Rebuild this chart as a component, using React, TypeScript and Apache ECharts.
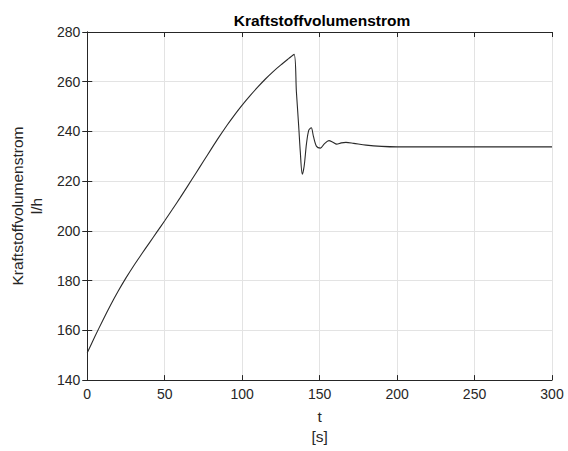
import React, { useEffect, useRef } from "react";
import * as echarts from "echarts";

const timeSeconds = [0, 5, 10, 15, 20, 25, 30, 35, 40, 45, 50, 55, 60, 65, 70, 75, 80, 85, 90, 95, 100, 105, 110, 115, 120, 125, 130, 133.5, 135, 136.5, 137.5, 138.8, 140, 141.5, 143, 144.6, 146, 148, 150.5, 153, 156, 158.5, 161, 164, 167, 172, 180, 190, 200, 250, 300];
const fuelFlow = [151, 157.6, 164.0, 170.1, 175.8, 181.1, 186.0, 190.6, 195.1, 199.6, 204.1, 208.7, 213.4, 218.2, 223.1, 228.0, 232.9, 237.7, 242.3, 246.6, 250.6, 254.3, 257.8, 261.1, 264.1, 266.8, 269.3, 271.0, 256, 242, 232, 222.8, 226, 235, 240.5, 241.5, 238, 234, 233.3, 235, 236.3, 235.7, 234.9, 235.4, 235.6, 235.2, 234.5, 234, 233.8, 233.8, 233.8];

const titleText = "Kraftstoffvolumenstrom";
const yAxisName = "Kraftstoffvolumenstrom\nl/h";
const xAxisName = "t\n[s]";

const FONT = "'Liberation Sans', Arial, sans-serif";
const AXIS_COLOR = "#262626";
const GRID_COLOR = "#e3e3e3";

export default function App() {
  const ref = useRef<HTMLDivElement>(null);
  useEffect(() => {
    if (!ref.current) return;
    const chart = echarts.init(ref.current, undefined, { renderer: "svg" });
    const data = timeSeconds.map((t, i) => [t, fuelFlow[i]]);
    const axisCommon = {
      axisLine: { show: true, lineStyle: { color: AXIS_COLOR, width: 1 } },
      axisTick: { show: true, inside: true, length: 5, lineStyle: { color: AXIS_COLOR } },
    };
    chart.setOption({
      animation: false,
      backgroundColor: "#ffffff",
      textStyle: { fontFamily: FONT },
      title: {
        text: titleText,
        left: 317,
        textAlign: "center",
        top: 7,
        textStyle: { fontFamily: FONT, fontSize: 15.5, fontWeight: "bold", color: "#000" },
      },
      grid: { left: 83, right: 16, top: 32, bottom: 65 },
      xAxis: [
        {
          type: "value",
          min: 0,
          max: 300,
          interval: 50,
          position: "bottom",
          name: xAxisName,
          nameLocation: "middle",
          nameGap: 16,
          nameTextStyle: { fontFamily: FONT, fontSize: 15.5, color: AXIS_COLOR, lineHeight: 20 },
          ...axisCommon,
          axisLabel: { fontFamily: FONT, fontSize: 14, color: AXIS_COLOR, margin: 7 },
          splitLine: { show: true, lineStyle: { color: GRID_COLOR, width: 1 } },
        },
        {
          type: "value",
          min: 0,
          max: 300,
          interval: 50,
          position: "top",
          ...axisCommon,
          axisLabel: { show: false },
          splitLine: { show: false },
        },
      ],
      yAxis: [
        {
          type: "value",
          min: 140,
          max: 280,
          interval: 20,
          position: "left",
          name: yAxisName,
          nameLocation: "middle",
          nameGap: 34,
          nameTextStyle: { fontFamily: FONT, fontSize: 15.5, color: AXIS_COLOR, lineHeight: 19 },
          ...axisCommon,
          axisLabel: { fontFamily: FONT, fontSize: 14, color: AXIS_COLOR, margin: 7 },
          splitLine: { show: true, lineStyle: { color: GRID_COLOR, width: 1 } },
        },
        {
          type: "value",
          min: 140,
          max: 280,
          interval: 20,
          position: "right",
          ...axisCommon,
          axisLabel: { show: false },
          splitLine: { show: false },
        },
      ],
      series: [
        {
          type: "line",
          data,
          xAxisIndex: 0,
          yAxisIndex: 0,
          showSymbol: false,
          smooth: 0.3,
          lineStyle: { color: "#2a2a2a", width: 1.1 },
        },
      ],
    });
    return () => chart.dispose();
  }, []);
  return (
    <div
      ref={ref}
      style={{ position: "fixed", left: 0, top: 0, width: 568, height: 451, background: "#fff" }}
    />
  );
}
